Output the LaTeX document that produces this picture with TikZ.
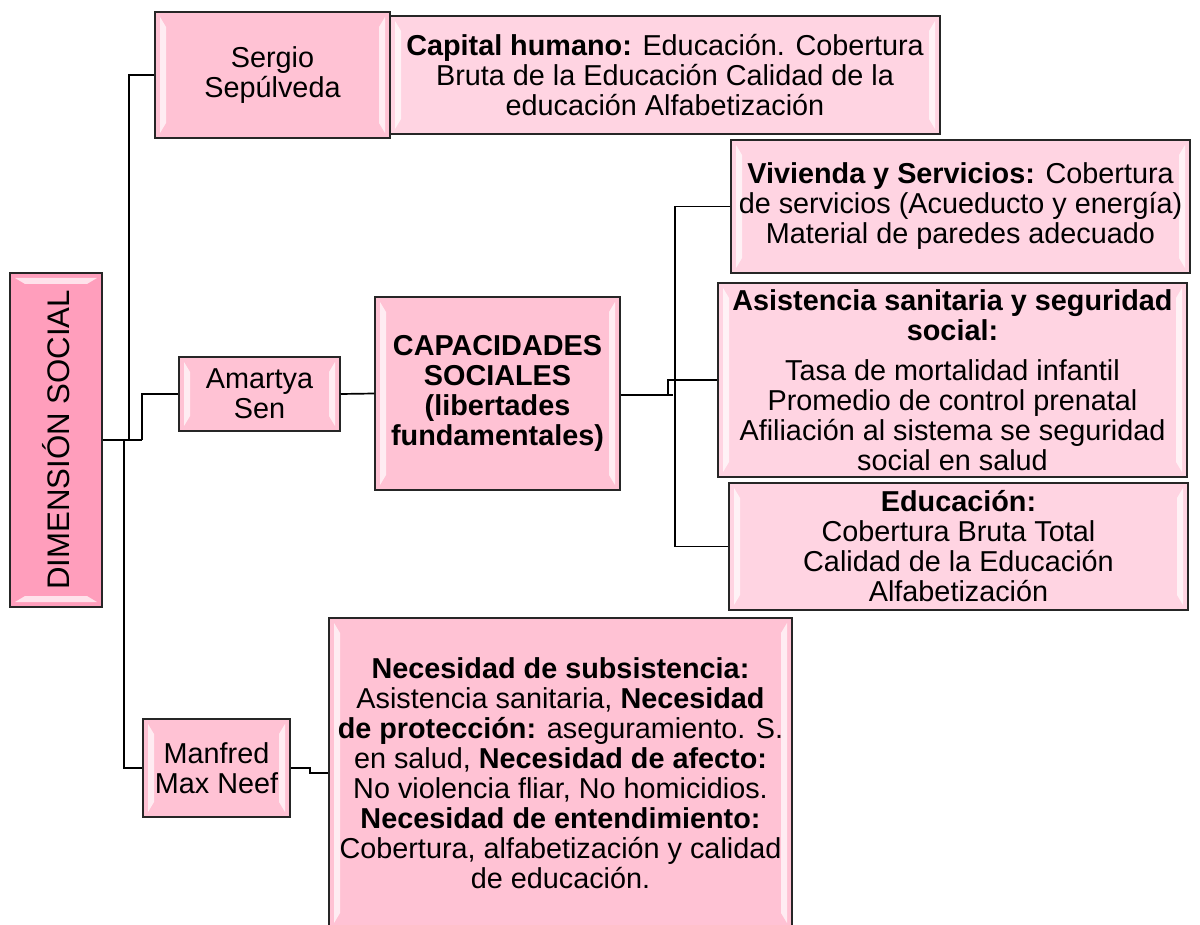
\documentclass[tikz,border=0pt]{standalone}
\usepackage{fontspec}
\setmainfont{Liberation Sans}
\definecolor{dimfill}{HTML}{FF9EBC}
\definecolor{midfill}{HTML}{FFC2D4}
\definecolor{lightfill}{HTML}{FFD4E2}
\tikzset{
  bevelh/.style={path picture={
    \fill[white,opacity=.7] ([shift={(2.5pt,-2.5pt)}]path picture bounding box.north west) -- ++(3pt,-5pt)
      -- ([shift={(5.5pt,7.5pt)}]path picture bounding box.south west) -- ([shift={(2.5pt,2.5pt)}]path picture bounding box.south west) -- cycle;
    \fill[white,opacity=.7] ([shift={(-2.5pt,-2.5pt)}]path picture bounding box.north east) -- ++(-3pt,-5pt)
      -- ([shift={(-5.5pt,7.5pt)}]path picture bounding box.south east) -- ([shift={(-2.5pt,2.5pt)}]path picture bounding box.south east) -- cycle;
  }},
  bevelv/.style={path picture={
    \fill[white,opacity=.7] ([shift={(2.5pt,-2.5pt)}]path picture bounding box.north west) -- ++(5pt,-3pt)
      -- ([shift={(-7.5pt,-5.5pt)}]path picture bounding box.north east) -- ([shift={(-2.5pt,-2.5pt)}]path picture bounding box.north east) -- cycle;
    \fill[white,opacity=.7] ([shift={(2.5pt,2.5pt)}]path picture bounding box.south west) -- ++(5pt,3pt)
      -- ([shift={(-7.5pt,5.5pt)}]path picture bounding box.south east) -- ([shift={(-2.5pt,2.5pt)}]path picture bounding box.south east) -- cycle;
  }},
  boxbase/.style={draw=black!85, line width=0.75pt, inner sep=0pt, align=center,
    font=\fontsize{14.4}{15}\selectfont},
  midbox/.style={boxbase, fill=midfill, bevelh},
  lightbox/.style={boxbase, fill=lightfill, bevelh},
  dimbox/.style={boxbase, fill=dimfill, bevelv},
  conn/.style={draw=black, line width=0.85pt},
}
\begin{document}
\begin{tikzpicture}[x=0.5pt,y=-0.5pt]
\useasboundingbox (0,0) rectangle (1200,925);
% boxes
\node[dimbox, minimum width=46pt, minimum height=167pt] (dim) at (56,440) {};
\node[rotate=90, font=\fontsize{15.6}{17}\selectfont, inner sep=0pt] (dimtext) at (dim.center) {DIMENSIÓN SOCIAL};
\node[midbox, minimum width=117.5pt, minimum height=63pt] (sergio) at (272.5,75) {Sergio\\Sepúlveda};
\node[lightbox, minimum width=275pt, minimum height=59pt] (capital) at (665,75) {\textbf{Capital humano:} Educación. Cobertura\\Bruta de la Educación Calidad de la\\educación Alfabetización};
\node[midbox, minimum width=80.5pt, minimum height=37pt] (amartya) at (259.5,394) {Amartya\\Sen};
\node[midbox, minimum width=122.5pt, minimum height=96.5pt] (capac) at (497.5,393.5) {\textbf{CAPACIDADES}\\\textbf{SOCIALES}\\\textbf{(libertades}\\\textbf{fundamentales)}};
\node[lightbox, minimum width=229.5pt, minimum height=66.5pt] (viv) at (960.5,206.5) {\textbf{Vivienda y Servicios:} Cobertura\\de servicios (Acueducto y energía)\\Material de paredes adecuado};
\node[lightbox, minimum width=234.5pt, minimum height=97pt] (asist) at (952.5,380) {\textbf{Asistencia sanitaria y seguridad}\\\textbf{social:}\\[5pt]Tasa de mortalidad infantil\\Promedio de control prenatal\\Afiliación al sistema se seguridad\\social en salud};
\node[lightbox, minimum width=229.5pt, minimum height=63.5pt] (edu) at (958.5,546.5) {\textbf{Educación:}\\Cobertura Bruta Total\\Calidad de la Educación\\Alfabetización};
\node[midbox, minimum width=73.5pt, minimum height=49pt] (manfred) at (216.5,768) {Manfred\\Max Neef};
\node[midbox, minimum width=231.5pt, minimum height=155pt] (nec) at (560.5,773) {\textbf{Necesidad de subsistencia:}\\Asistencia sanitaria, \textbf{Necesidad}\\\textbf{de protección:} aseguramiento. S.\\en salud, \textbf{Necesidad de afecto:}\\No violencia fliar, No homicidios.\\\textbf{Necesidad de entendimiento:}\\Cobertura, alfabetización y calidad\\de educación.};
% junction coordinates
\coordinate (j1) at (142,440);
\coordinate (j2) at (129,440);
\coordinate (j3) at (124,440);
\coordinate (k1) at (673,395);
\coordinate (k2) at (668,395);
\coordinate (ktop) at (675,206.5);
\coordinate (kbot) at (675,546.5);
\coordinate (m1) at (310,768);
% connectors
\draw[conn, line width=1.2pt] (dim.east) -- (j1);
\draw[conn] (j2) |- (sergio.west);
\draw[conn] (j1) |- (amartya.west);
\draw[conn] (j3) |- (manfred.west);
\draw[conn] (amartya.east) -- (capac.west);
\draw[conn, line width=1.2pt] (capac.east |- k1) -- (k1);
\draw[conn] (ktop) -- (kbot);
\draw[conn] (ktop) -- (viv.west);
\draw[conn] (kbot) -- (edu.west);
\draw[conn] (k2) |- (asist.west);
\draw[conn] (manfred.east) -- (m1) |- (nec.west);
\end{tikzpicture}
\end{document}
